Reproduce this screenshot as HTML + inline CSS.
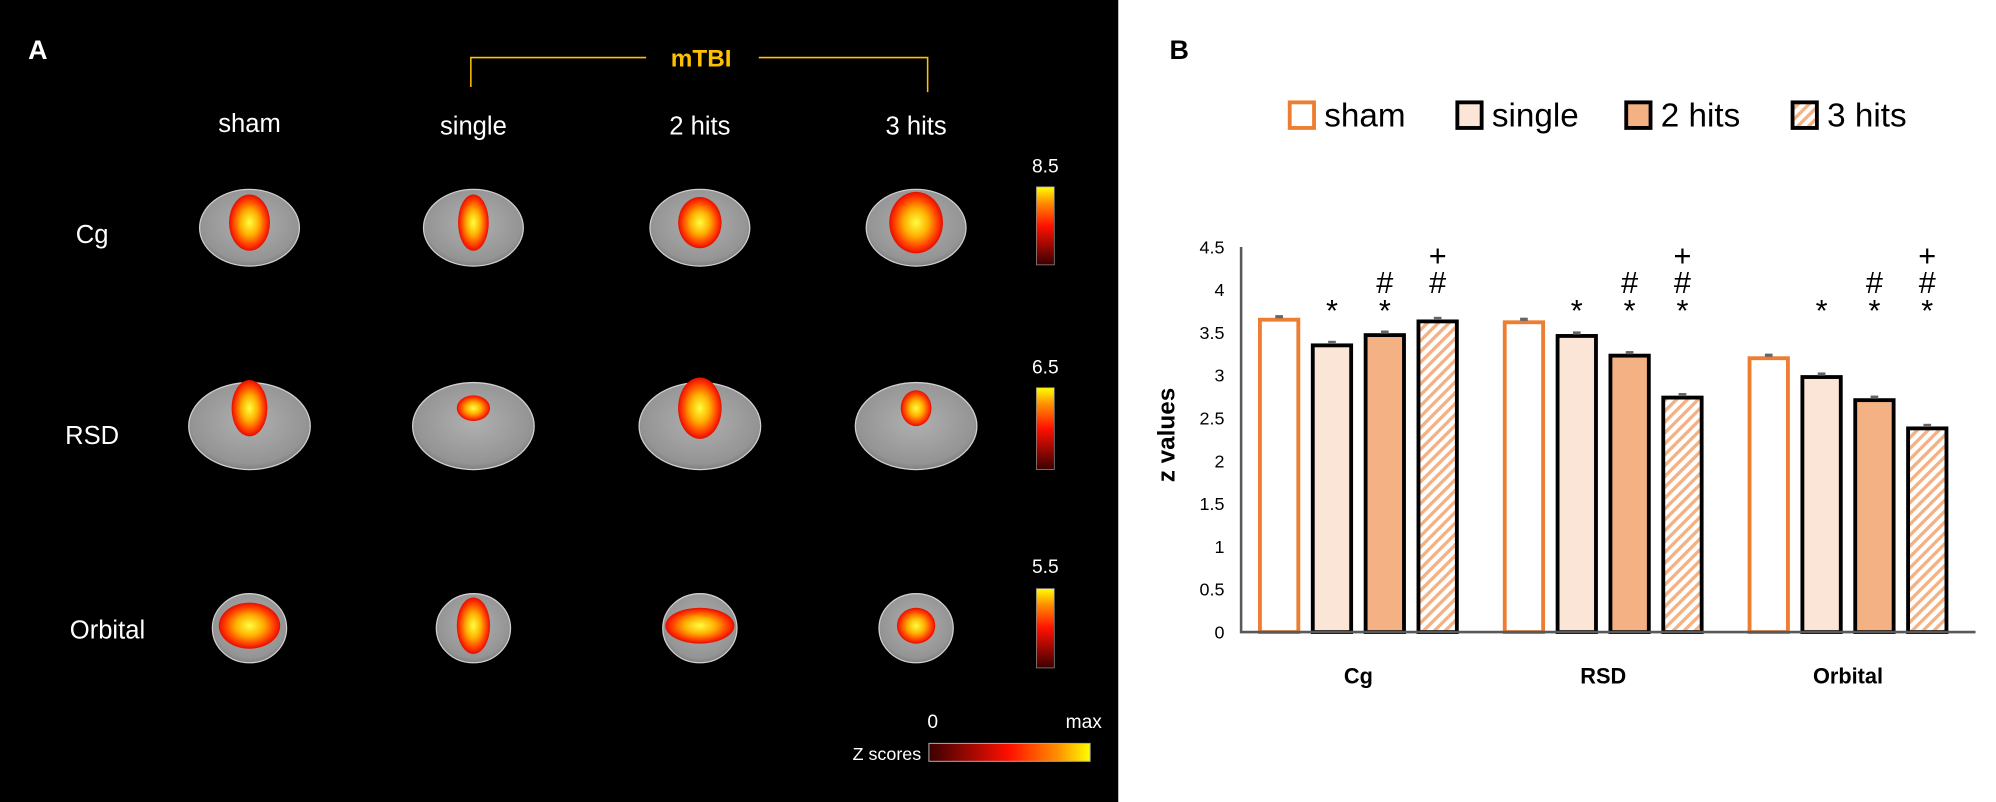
<!DOCTYPE html>
<html><head><meta charset="utf-8"><style>
html,body{margin:0;padding:0;background:#fff}
svg{display:block;font-family:"Liberation Sans",sans-serif}
</style></head><body>
<svg id="fig" width="1996" height="802" viewBox="0 0 1560 626.8" preserveAspectRatio="none">
<defs>
<radialGradient id="heat" cx="50%" cy="50%" r="50%"><stop offset="0" stop-color="#ffff40"/><stop offset="0.45" stop-color="#ffb000"/><stop offset="0.85" stop-color="#ff3000"/><stop offset="1" stop-color="#e01000"/></radialGradient>
<radialGradient id="brain" cx="50%" cy="45%" r="60%"><stop offset="0" stop-color="#b0b0b0"/><stop offset="0.8" stop-color="#949494"/><stop offset="1" stop-color="#707070"/></radialGradient>
<linearGradient id="cbar" x1="0" y1="1" x2="0" y2="0"><stop offset="0" stop-color="#3a0000"/><stop offset="0.5" stop-color="#ff1000"/><stop offset="0.8" stop-color="#ff9000"/><stop offset="1" stop-color="#ffff00"/></linearGradient>
<linearGradient id="zbar" x1="0" y1="0" x2="1" y2="0"><stop offset="0" stop-color="#3a0000"/><stop offset="0.5" stop-color="#ff1000"/><stop offset="0.8" stop-color="#ff9000"/><stop offset="1" stop-color="#ffff00"/></linearGradient>
<pattern id="hatch" width="6" height="6" patternUnits="userSpaceOnUse" patternTransform="rotate(45)"><rect width="6" height="6" fill="#fff"/><rect width="2.6" height="6" fill="#F4B183"/></pattern>
</defs>
<rect x="0" y="0" width="874" height="627" fill="#000"/>
<text x="22" y="46" fill="#fff" font-size="21" font-weight="bold">A</text>
<g stroke="#FFC000" stroke-width="1.2" fill="none">
<polyline points="368,68 368,45 505,45"/><polyline points="593,45 725,45 725,72"/></g>
<text x="548" y="52" fill="#FFC000" font-size="19" font-weight="bold" text-anchor="middle">mTBI</text>
<g fill="#fff" font-size="20" text-anchor="middle">
<text x="195" y="103">sham</text>
<text x="370" y="105">single</text>
<text x="547" y="105">2 hits</text>
<text x="716" y="105">3 hits</text>
<text x="72" y="190">Cg</text>
<text x="72" y="347">RSD</text>
<text x="84" y="499">Orbital</text>
</g>
<g id="brains"></g>
<g fill="#fff" font-size="15" text-anchor="middle">
<text x="817" y="135">8.5</text>
<text x="817" y="292">6.5</text>
<text x="817" y="448">5.5</text>
<text x="729" y="569">0</text>
<text x="847" y="569">max</text>
<text x="720" y="594" text-anchor="end" font-size="14">Z scores</text>
</g>
<rect x="810" y="146" width="14" height="61" fill="url(#cbar)" stroke="#888" stroke-width="0.6"/>
<rect x="810" y="303" width="14" height="64" fill="url(#cbar)" stroke="#888" stroke-width="0.6"/>
<rect x="810" y="460" width="14" height="62" fill="url(#cbar)" stroke="#888" stroke-width="0.6"/>
<rect x="726" y="581" width="126" height="14" fill="url(#zbar)" stroke="#aaa" stroke-width="0.8"/>

<text x="914" y="46" fill="#000" font-size="21" font-weight="bold">B</text>
<g font-size="26" fill="#000">
<rect x="1008" y="80" width="19" height="20" fill="#fff" stroke="#ED7D31" stroke-width="3"/>
<text x="1035" y="99">sham</text>
<rect x="1139" y="80" width="19" height="20" fill="#FBE5D6" stroke="#000" stroke-width="3"/>
<text x="1166" y="99">single</text>
<rect x="1271" y="80" width="19" height="20" fill="#F4B183" stroke="#000" stroke-width="3"/>
<text x="1298" y="99">2 hits</text>
<rect x="1401" y="80" width="19" height="20" fill="url(#hatch)" stroke="#000" stroke-width="3"/>
<text x="1428" y="99">3 hits</text>
</g>
<text transform="translate(918,340) rotate(-90)" font-size="19" font-weight="bold" text-anchor="middle">z values</text>
<g id="chart"></g>
</svg>
<script>
const categories = ["Cg", "RSD", "Orbital"];
const shamVals = [3.65, 3.62, 3.2];
const singleVals = [3.35, 3.46, 2.98];
const twoHitVals = [3.47, 3.23, 2.71];
const threeHitVals = [3.63, 2.74, 2.38];
const errVals = [0.02, 0.02, 0.02];
const yTicks = [0, 0.5, 1, 1.5, 2, 2.5, 3, 3.5, 4, 4.5];
const starMarks = [["", "*", "*", ""], ["", "*", "*", "*"], ["", "*", "*", "*"]];
const hashMarks = [["", "", "#", "#"], ["", "", "#", "#"], ["", "", "#", "#"]];
const plusMarks = [["", "", "", "+"], ["", "", "", "+"], ["", "", "", "+"]];

const NS = "http://www.w3.org/2000/svg";
const X0 = 970, X1 = 1544, Y0 = 494, YTOP = 193, YMAX = 4.5;
const yScale = v => Y0 - (v / YMAX) * (Y0 - YTOP);
const catW = (X1 - X0) / categories.length;
const xCat = i => X0 + catW * (i + 0.5) - 4;
const barW = 30, barStep = 41.3;
const chart = document.getElementById("chart");
function mk(tag, attrs, parent) { const e = document.createElementNS(NS, tag); for (const k in attrs) e.setAttribute(k, attrs[k]); parent.appendChild(e); return e; }

yTicks.forEach(t => {
  const tx = mk("text", { x: 957, y: yScale(t) + 5, "font-size": 14, "text-anchor": "end", fill: "#000" }, chart);
  tx.textContent = String(t);
  
  
});
const series = [shamVals, singleVals, twoHitVals, threeHitVals];
const fills = ["#fff", "#FBE5D6", "#F4B183", "url(#hatch)"];
const strokes = ["#ED7D31", "#000", "#000", "#000"];
const sNames = ["sham", "single", "2hits", "3hits"];
categories.forEach((c, i) => {
  series.forEach((vals, s) => {
    const cx = xCat(i) + (s - 1.5) * barStep;
    const top = yScale(vals[i]);
    const r = mk("rect", { x: cx - barW / 2, y: top, width: barW, height: Y0 - top, fill: fills[s], stroke: strokes[s], "stroke-width": 3 }, chart);
    
    
    const e = mk("line", { x1: cx - 3, x2: cx + 3, y1: yScale(vals[i] + errVals[i]) - 1, y2: yScale(vals[i] + errVals[i]) - 1, stroke: "#666", "stroke-width": 2.5 }, chart);
    
    
    [[starMarks, 251], [hashMarks, 229], [plusMarks, 208]].forEach(([arr, yy]) => {
      if (arr[i][s]) {
        const t = mk("text", { x: cx, y: yy, "font-size": 24, "text-anchor": "middle", fill: "#000" }, chart);
        t.textContent = arr[i][s];
        
        
      }
    });
  });
  const lab = mk("text", { x: xCat(i), y: 534, "font-size": 17, "font-weight": "bold", "text-anchor": "middle", fill: "#000" }, chart);
  lab.textContent = c;
  
  
});
const ax = mk("polyline", { points: `${X0},${YTOP} ${X0},${Y0} ${X1},${Y0}`, fill: "none", stroke: "#595959", "stroke-width": 2 }, chart);



// brain images (decorative)
const brains = document.getElementById("brains");
const colX = [195, 370, 547, 716];
const rows = [{ y: 178, w: 78, h: 60, hx: [16, 12, 17, 21], hy: [22, 22, 20, 24], dy: -4 },
              { y: 333, w: 95, h: 68, hx: [14, 13, 17, 12], hy: [22, 10, 24, 14], dy: -14 },
              { y: 491, w: 58, h: 54, hx: [24, 13, 27, 15], hy: [18, 22, 14, 14], dy: -2 }];
rows.forEach((r, ri) => colX.forEach((x, ci) => {
  const b = mk("ellipse", { cx: x, cy: r.y, rx: r.w / 2, ry: r.h / 2, fill: "url(#brain)", stroke: "#cfcfcf", "stroke-width": 1 }, brains);
  
  
  const h = mk("ellipse", { cx: x, cy: r.y + r.dy, rx: r.hx[ci], ry: r.hy[ci], fill: "url(#heat)" }, brains);
  
  
}));
</script>
</body></html>
